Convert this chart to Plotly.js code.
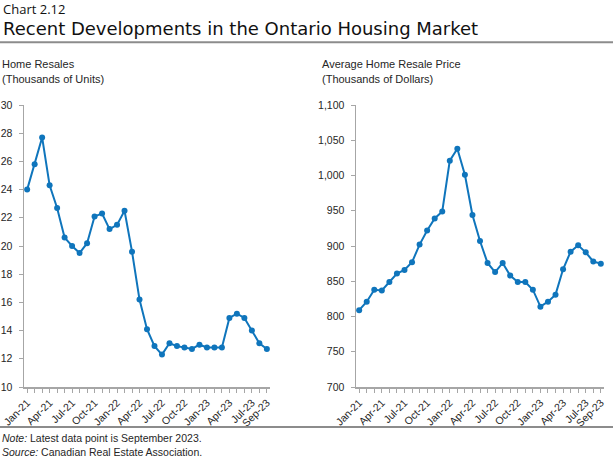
<!DOCTYPE html>
<html>
<head>
<meta charset="utf-8">
<script src="https://cdn.plot.ly/plotly-3.0.1.min.js"></script>
<style>
html,body{margin:0;padding:0;background:#fff;}
#chart{width:613px;height:463px;}
</style>
</head>
<body>
<div id="chart"></div>
<script>
const months = ["Jan-21","Feb-21","Mar-21","Apr-21","May-21","Jun-21","Jul-21","Aug-21","Sep-21","Oct-21","Nov-21","Dec-21",
  "Jan-22","Feb-22","Mar-22","Apr-22","May-22","Jun-22","Jul-22","Aug-22","Sep-22","Oct-22","Nov-22","Dec-22",
  "Jan-23","Feb-23","Mar-23","Apr-23","May-23","Jun-23","Jul-23","Aug-23","Sep-23"];
const labelledMonths = ["Jan-21","Apr-21","Jul-21","Oct-21","Jan-22","Apr-22","Jul-22","Oct-22","Jan-23","Apr-23","Jul-23","Sep-23"];
const homeResales = [24.0,25.8,27.7,24.3,22.7,20.6,20.0,19.5,20.2,22.1,22.3,21.2,
  21.5,22.5,19.6,16.2,14.1,12.9,12.3,13.1,12.9,12.8,12.7,13.0,
  12.8,12.8,12.8,14.9,15.2,14.9,14.0,13.1,12.7];
const avgPrice = [809,821,838,837,849,861,866,877,902,922,939,949,
  1021,1038,1001,944,907,876,863,876,858,849,849,838,
  814,821,831,867,892,901,891,878,875];
const resalesTicks = [10,12,14,16,18,20,22,24,26,28,30];
const priceTicks = [700,750,800,850,900,950,1000,1050,1100];

const blue = "#0F75BC";
const axisGrey = "#A6A6A6";
const textCol = "#262626";
const tickText = months.map(m => labelledMonths.includes(m) ? m : "");

const traceStyle = {
  type: "scatter", mode: "lines+markers",
  line: {color: blue, width: 2},
  marker: {color: blue, size: 6},
  hoverinfo: "skip", showlegend: false
};
const data = [
  Object.assign({}, traceStyle, {x: months, y: homeResales, xaxis: "x", yaxis: "y"}),
  Object.assign({}, traceStyle, {x: months, y: avgPrice, xaxis: "x2", yaxis: "y2"})
];

const L = 24, R = 9, T = 105, B = 76, W = 613, H = 463;
const pw = W - L - R, ph = H - T - B;
const px = v => (v - L) / pw;
const py = v => (H - B - v) / ph;

const xCommon = {
  type: "category", range: [-0.42, 32.42],
  tickmode: "array", tickvals: months, ticktext: tickText,
  tickangle: -45, ticks: "outside", ticklen: 4, tickwidth: 1, tickcolor: axisGrey,
  showline: true, linecolor: axisGrey, linewidth: 1.5,
  showgrid: false, zeroline: false,
  tickfont: {family: "Liberation Sans, Arial, sans-serif", size: 10.5, color: textCol},
  fixedrange: true
};
const yCommon = {
  ticks: "outside", ticklen: 4, tickwidth: 1, tickcolor: axisGrey,
  showline: true, linecolor: axisGrey, linewidth: 1.5,
  showgrid: false, zeroline: false, ticklabelstandoff: 4,
  tickfont: {family: "Liberation Sans, Arial, sans-serif", size: 10.5, color: textCol},
  fixedrange: true
};

const subFont = {family: "Liberation Sans, Arial, sans-serif", size: 11, color: textCol};
const footFont = {family: "Liberation Sans, Arial, sans-serif", size: 10.5, color: textCol};

const layout = {
  width: W, height: H,
  margin: {l: L, r: R, t: T, b: B, pad: 0},
  paper_bgcolor: "#fff", plot_bgcolor: "#fff",
  xaxis: Object.assign({}, xCommon, {domain: [0, px(270)], anchor: "y"}),
  xaxis2: Object.assign({}, xCommon, {domain: [px(356), 1], anchor: "y2"}),
  yaxis: Object.assign({}, yCommon, {range: [10, 30], tickmode: "array", tickvals: resalesTicks, anchor: "x"}),
  yaxis2: Object.assign({}, yCommon, {range: [700, 1100], tickmode: "array", tickvals: priceTicks, tickformat: ",", anchor: "x2"}),
  shapes: [
    {type: "line", xref: "paper", yref: "paper", x0: px(0), x1: px(W), y0: py(42.3), y1: py(42.3), line: {color: "#8C8C8C", width: 2}},
    {type: "line", xref: "paper", yref: "paper", x0: px(0), x1: px(W), y0: py(427), y1: py(427), line: {color: "#8C8C8C", width: 2}}
  ],
  annotations: [
    {text: "Chart 2.12", xref: "paper", yref: "paper", x: px(1), y: py(9), xanchor: "left", yanchor: "middle", showarrow: false,
     font: {family: "Open Sans, sans-serif", size: 13, color: "#111"}},
    {text: "Recent Developments in the Ontario Housing Market", xref: "paper", yref: "paper", x: px(1), y: py(28.5), xanchor: "left", yanchor: "middle", showarrow: false,
     font: {family: "DejaVu Sans, sans-serif", size: 18, color: "#111"}},
    {text: "Home Resales", xref: "paper", yref: "paper", x: px(0), y: py(63.5), xanchor: "left", yanchor: "middle", showarrow: false, font: subFont},
    {text: "(Thousands of Units)", xref: "paper", yref: "paper", x: px(0), y: py(79), xanchor: "left", yanchor: "middle", showarrow: false, font: subFont},
    {text: "Average Home Resale Price", xref: "paper", yref: "paper", x: px(320), y: py(63.5), xanchor: "left", yanchor: "middle", showarrow: false, font: subFont},
    {text: "(Thousands of Dollars)", xref: "paper", yref: "paper", x: px(320), y: py(79), xanchor: "left", yanchor: "middle", showarrow: false, font: subFont},
    {text: "<i>Note:</i> Latest data point is September 2023.", xref: "paper", yref: "paper", x: px(0), y: py(438), xanchor: "left", yanchor: "middle", showarrow: false, font: footFont},
    {text: "<i>Source:</i> Canadian Real Estate Association.", xref: "paper", yref: "paper", x: px(0), y: py(452), xanchor: "left", yanchor: "middle", showarrow: false, font: footFont}
  ]
};

Plotly.newPlot("chart", data, layout, {staticPlot: true, displayModeBar: false});
</script>
</body>
</html>
